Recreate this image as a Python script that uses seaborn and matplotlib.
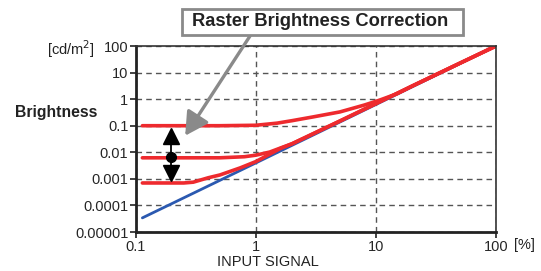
import matplotlib
matplotlib.use('Agg')
import matplotlib.pyplot as plt
import seaborn as sns
from matplotlib.patches import Rectangle

# values (input signal [%] vs brightness [cd/m2])
base_x = [0.113, 1.0, 10.0, 100.0]
base_y = [3.4e-5, 0.004, 0.63, 100.0]

top_x = [0.113, 0.5, 1.0, 1.5, 2.0, 3.0, 5.0, 8.0, 10.8, 15.0, 20.0, 50.0, 100.0]
top_y = [0.1, 0.1, 0.104, 0.125, 0.155, 0.215, 0.33, 0.6, 0.93, 1.6, 3.1, 22.5, 100.0]

mid_x = [0.113, 0.5, 0.8, 1.0, 1.3, 1.6, 2.0, 5.0, 10.0, 20.0, 50.0, 100.0]
mid_y = [0.0062, 0.0062, 0.0068, 0.0078, 0.0102, 0.0145, 0.021, 0.15, 0.68, 3.1, 22.5, 100.0]

low_x = [0.113, 0.25, 0.3, 0.4, 0.5, 0.74, 1.0, 1.3, 1.6, 2.0, 5.0, 10.0, 20.0, 50.0, 100.0]
low_y = [0.0007, 0.0007, 0.00075, 0.0011, 0.0014, 0.0026, 0.0045, 0.0085, 0.014, 0.021, 0.15, 0.68, 3.1, 22.5, 100.0]

x_ticks = [0.1, 1, 10, 100]
x_labels = ['0.1', '1', '10', '100']
y_ticks = [1e-5, 1e-4, 1e-3, 1e-2, 1e-1, 1, 10, 100]
y_labels = ['0.00001', '0.0001', '0.001', '0.01', '0.1', '1', '10', '100']

RED = '#ee2a2e'
BLUE = '#2b59b0'
GRAY = '#8a8a8a'

sns.set_style('white')
plt.rcParams['font.family'] = ['Liberation Sans', 'DejaVu Sans']

fig = plt.figure(figsize=(5.41, 2.71), dpi=100)
ax = fig.add_axes([136/541, 1 - 232/271, 360/541, 186/271])

sns.lineplot(x=base_x, y=base_y, ax=ax, color=BLUE, lw=2.0, sort=False, estimator=None)
for xs, ys in [(low_x, low_y), (mid_x, mid_y), (top_x, top_y)]:
  sns.lineplot(x=xs, y=ys, ax=ax, color=RED, lw=2.6, sort=False, estimator=None)

ax.set_xscale('log')
ax.set_yscale('log')
ax.set_xlim(0.1, 100)
ax.set_ylim(1e-5, 100)
ax.set_xticks(x_ticks, labels=x_labels)
ax.set_yticks(y_ticks, labels=y_labels)
ax.minorticks_off()
ax.tick_params(axis='both', which='major', direction='out', length=4, width=1.2,
               color='#222222', labelsize=10.5, pad=1.5, left=True, bottom=True)
ax.set_xlabel('')
ax.set_ylabel('')

ax.grid(True, which='major', color='#555555', lw=1.0, linestyle=(0, (4, 3)))
for side in ['left', 'bottom']:
  ax.spines[side].set_linewidth(2.0)
  ax.spines[side].set_color('#222222')
for side in ['top', 'right']:
  ax.spines[side].set_linewidth(1.2)
  ax.spines[side].set_color('#333333')

# double arrow marking the correction range
ax_x = 0.196
ax.plot([ax_x, ax_x], [0.03, 0.0019], color='black', lw=1.3)
ax.plot([ax_x], [0.042], marker='^', ms=12, color='black', mec='black')
ax.plot([ax_x], [0.0016], marker='v', ms=12, color='black', mec='black')
ax.plot([ax_x], [mid_y[0] * 1.08], marker='o', ms=7, color='black')

# callout box with arrow
fig.patches.append(Rectangle((182, 271 - 35), 281, 26, transform=None,
                             fc='white', ec=GRAY, lw=2, zorder=5))
fig.text(320 / 541, 1 - 22 / 271, 'Raster Brightness Correction', ha='center', va='center',
         fontsize=13.2, fontweight='bold', color='#222222', zorder=6)
ax.annotate('', xy=(0.257, 0.042), xycoords='data',
            xytext=(250, 271 - 36), textcoords='figure pixels',
            arrowprops=dict(arrowstyle='-|>,head_length=1.0,head_width=0.55', mutation_scale=14,
                            lw=2.4, color=GRAY, shrinkA=0, shrinkB=0),
            annotation_clip=False, zorder=7)

fig.text(71 / 541, 1 - 49 / 271, '[cd/m$^2$]', ha='center', va='center', fontsize=10.5, color='#222222')
fig.text(56 / 541, 1 - 112 / 271, 'Brightness', ha='center', va='center', fontsize=11.3,
         fontweight='bold', color='#222222')
fig.text(268 / 541, 1 - 262 / 271, 'INPUT SIGNAL', ha='center', va='center', fontsize=10.5, color='#222222')
fig.text(524 / 541, 1 - 245 / 271, '[%]', ha='center', va='center', fontsize=10.5, color='#222222')

fig.savefig('out.png', dpi=100)
